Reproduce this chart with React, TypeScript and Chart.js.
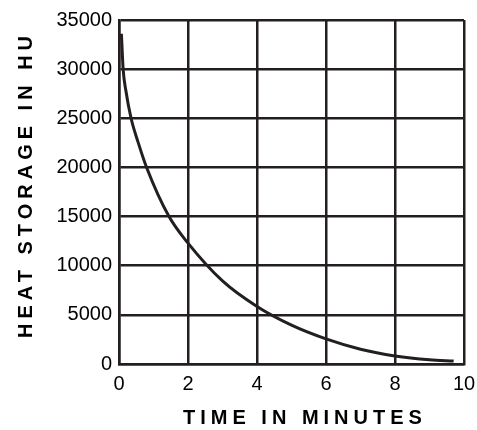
import React, { useEffect, useRef } from "react";
import { Chart, registerables } from "chart.js";

Chart.register(...registerables);

const timeMinutes = [0.07, 0.12, 0.2, 0.35, 0.55, 0.8, 1.45, 2, 3, 4, 5, 6, 7, 8, 9, 9.7];
const heatStorage = [33600, 30000, 27800, 25000, 22600, 20000, 15000, 12300, 8450, 5850, 3950, 2550, 1500, 820, 430, 300];
const xTicks = [0, 2, 4, 6, 8, 10];
const yTicks = [0, 5000, 10000, 15000, 20000, 25000, 30000, 35000];
const xTitle = "TIME IN MINUTES";
const yTitle = "HEAT STORAGE IN HU";

const INK = "#231f20";
const FONT = "'Liberation Sans', Arial, Helvetica, sans-serif";

const titlePlugin = {
  id: "spacedTitles",
  afterDraw(chart: any) {
    const ctx = chart.ctx as CanvasRenderingContext2D;
    ctx.save();
    ctx.fillStyle = "#000";
    ctx.font = `bold 20px ${FONT}`;
    (ctx as any).letterSpacing = "5px";
    ctx.textAlign = "left";
    ctx.textBaseline = "middle";
    ctx.fillText(xTitle, 183, 418);
    ctx.translate(26, 338);
    ctx.rotate(-Math.PI / 2);
    ctx.fillText(yTitle, 0, 0);
    ctx.restore();
  },
};

export default function App() {
  const ref = useRef<HTMLCanvasElement | null>(null);
  useEffect(() => {
    document.body.style.margin = "0";
    const chart = new Chart(ref.current!, {
      type: "line",
      data: {
        datasets: [
          {
            data: timeMinutes.map((x, i) => ({ x, y: heatStorage[i] })),
            borderColor: INK,
            borderWidth: 3,
            pointRadius: 0,
            cubicInterpolationMode: "monotone",
            fill: false,
          },
        ],
      },
      options: {
        animation: false,
        responsive: false,
        maintainAspectRatio: false,
        layout: { padding: { top: 20, right: 0, left: 0, bottom: 0 } },
        plugins: { legend: { display: false }, tooltip: { enabled: false } },
        scales: {
          x: {
            type: "linear",
            min: 0,
            max: 10,
            afterBuildTicks: (s: any) => {
              s.ticks = xTicks.map((v) => ({ value: v }));
            },
            afterFit: (s: any) => {
              s.height = 66;
              s.paddingLeft = 0;
              s.paddingRight = 13;
            },
            grid: { color: INK, lineWidth: 2.5, drawTicks: false },
            border: { color: INK, width: 2.5 },
            ticks: { color: "#000", font: { family: FONT, size: 20 }, padding: 8, maxRotation: 0 },
          },
          y: {
            type: "linear",
            min: 0,
            max: 35000,
            afterBuildTicks: (s: any) => {
              s.ticks = yTicks.map((v) => ({ value: v }));
            },
            afterFit: (s: any) => {
              s.width = 119;
              s.paddingTop = 0;
              s.paddingBottom = 0;
            },
            grid: { color: INK, lineWidth: 2.5, drawTicks: false },
            border: { color: INK, width: 2.5 },
            ticks: { color: "#000", font: { family: FONT, size: 20 }, padding: 7, callback: (v: any) => String(v) },
          },
        },
      },
      plugins: [titlePlugin],
    });
    return () => chart.destroy();
  }, []);
  return (
    <div style={{ position: "absolute", left: 0, top: 0, width: 477, height: 430 }}>
      <canvas ref={ref} width={477} height={430} style={{ width: 477, height: 430 }} />
    </div>
  );
}
